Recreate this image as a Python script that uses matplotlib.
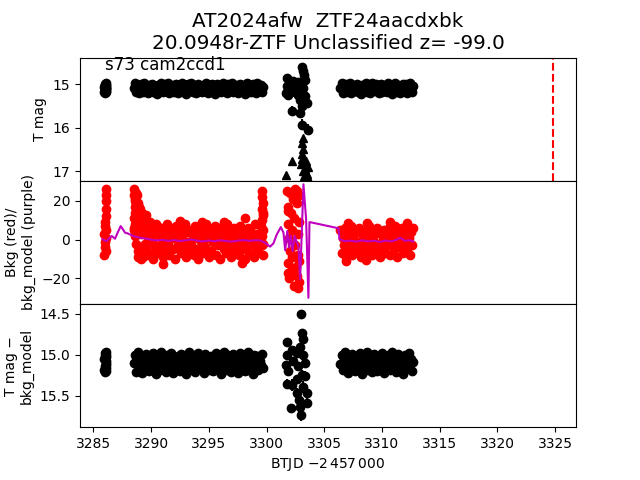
import matplotlib
matplotlib.use("Agg")
import matplotlib.pyplot as plt

# BTJD - 2457000; three dense sections of the light curve plus the messy bit near 3302-3303
t_a = [3285.94, 3285.96, 3285.98, 3286.00, 3286.02, 3286.04, 3286.06,
       3286.08, 3286.10, 3286.11, 3286.12, 3286.12, 3286.11, 3286.10]
mag_a = [15.06, 15.18, 14.99, 15.12, 15.03, 15.20, 15.09,
         14.98, 15.15, 15.04, 15.11, 15.19, 15.01, 15.08]
bkg_a = [-8, 3, -4, 7, -1, 9, -6, 5, 12, 16, 20, 23, 26, 1]
diff_a = [15.05, 15.19, 14.98, 15.13, 15.02, 15.21, 15.10,
          14.97, 15.16, 15.03, 15.12, 15.20, 15.00, 15.08]

t_b = [3288.5, 3288.6, 3288.7, 3288.8, 3288.9, 3289.0, 3289.1, 3289.2, 3289.3, 3289.4,
       3289.5, 3289.6, 3289.7, 3289.8, 3289.9, 3290.0, 3290.1, 3290.2, 3290.3, 3290.4,
       3290.5, 3290.6, 3290.7, 3290.8, 3290.9, 3291.0, 3291.1, 3291.2, 3291.3, 3291.4,
       3291.5, 3291.6, 3291.7, 3291.8, 3291.9, 3292.0, 3292.1, 3292.2, 3292.3, 3292.4,
       3292.5, 3292.6, 3292.7, 3292.8, 3292.9, 3293.0, 3293.1, 3293.2, 3293.3, 3293.4,
       3293.5, 3293.6, 3293.7, 3293.8, 3293.9, 3294.0, 3294.1, 3294.2, 3294.3, 3294.4,
       3294.5, 3294.6, 3294.7, 3294.8, 3294.9, 3295.0, 3295.1, 3295.2, 3295.3, 3295.4,
       3295.5, 3295.6, 3295.7, 3295.8, 3295.9, 3296.0, 3296.1, 3296.2, 3296.3, 3296.4,
       3296.5, 3296.6, 3296.7, 3296.8, 3296.9, 3297.0, 3297.1, 3297.2, 3297.3, 3297.4,
       3297.5, 3297.6, 3297.7, 3297.8, 3297.9, 3298.0, 3298.1, 3298.2, 3298.3, 3298.4,
       3298.5, 3298.6, 3298.7, 3298.8, 3298.9, 3299.0, 3299.1, 3299.2, 3299.3, 3299.4,
       3299.5, 3299.6, 3299.7]
mag_b = [15.08, 14.98, 15.19, 15.03, 15.14, 15.21, 15.00, 15.10, 15.17, 14.97,
         15.12, 15.05, 15.20, 15.01, 15.15, 15.08, 14.99, 15.18, 15.11, 15.04,
         15.22, 15.02, 15.13, 15.07, 14.98, 15.19, 15.09, 15.00, 15.16, 15.12,
         14.97, 15.21, 15.06, 15.14, 15.01, 15.18, 15.10, 14.99, 15.20, 15.04,
         15.13, 15.08, 14.98, 15.17, 15.02, 15.22, 15.11, 15.00, 15.15, 15.06,
         14.97, 15.19, 15.09, 15.03, 15.21, 15.12, 14.99, 15.16, 15.05, 15.18,
         15.01, 15.14, 15.08, 14.98, 15.20, 15.10, 15.03, 15.17, 15.00, 15.13,
         15.22, 15.06, 14.99, 15.15, 15.04, 15.11, 15.19, 14.98, 15.09, 15.02,
         15.16, 15.21, 15.00, 15.12, 15.07, 14.97, 15.18, 15.05, 15.14, 15.01,
         15.20, 15.10, 14.99, 15.16, 15.03, 15.13, 15.22, 15.08, 14.98, 15.17,
         15.04, 15.11, 15.19, 15.00, 15.14, 15.06, 15.21, 14.97, 15.12, 15.09,
         15.02, 15.18, 15.07]
bkg_b = [6, 21, -2, 23, -6, 17, 3, 14, -9, 11,
         -4, 13, 1, -8, 9, -1, 7, -10, 4, -5,
         7, -7, 2, -3, 6, -9, 0, 4, -6, 8,
         -2, -8, 5, 1, -5, 3, -10, 7, -3, 0,
         6, -7, 2, -4, 8, -9, 4, -1, -6, 5,
         -3, 1, -8, 7, -5, 3, -10, 0, 6, -2,
         -7, 4, -4, 8, 1, -9, 5, -6, 2, -1,
         7, -8, 3, -3, 6, -10, 0, 4, -5, 2,
         -7, 8, -2, 5, -9, 1, -4, 6, -6, 3,
         -1, -8, 7, 0, -5, 4, -10, 2, -3, 6,
         -7, 5, -2, 1, -9, 8, -4, 3, -6, 0,
         7, -3, 14]
diff_b = [15.10, 15.00, 15.21, 15.05, 14.97, 15.16, 15.08, 15.22, 15.02, 15.13,
          15.18, 14.99, 15.07, 15.20, 15.03, 15.12, 15.15, 14.98, 15.09, 15.23,
          15.01, 15.14, 15.06, 15.19, 14.97, 15.11, 15.17, 15.04, 15.21, 15.00,
          15.09, 15.15, 14.98, 15.13, 15.22, 15.03, 15.07, 15.18, 15.01, 15.12,
          15.20, 14.99, 15.10, 15.16, 15.05, 15.23, 15.02, 15.14, 14.97, 15.19,
          15.08, 15.11, 15.00, 15.21, 15.06, 15.15, 14.98, 15.13, 15.17, 15.03,
          15.10, 15.22, 14.99, 15.08, 15.16, 15.04, 15.19, 15.01, 15.12, 15.20,
          15.06, 14.98, 15.14, 15.09, 15.18, 15.02, 15.23, 15.11, 14.97, 15.15,
          15.05, 15.19, 15.00, 15.13, 15.21, 15.07, 14.99, 15.17, 15.03, 15.12,
          15.22, 15.08, 14.98, 15.16, 15.01, 15.14, 15.20, 15.04, 15.10, 14.97,
          15.18, 15.06, 15.13, 15.23, 15.00, 15.11, 15.15, 15.02, 15.19, 15.08,
          15.12, 14.99, 15.16]

t_d = [3306.4, 3306.5, 3306.6, 3306.7, 3306.8, 3306.9, 3307.0, 3307.1, 3307.2, 3307.3,
       3307.4, 3307.5, 3307.6, 3307.7, 3307.8, 3307.9, 3308.0, 3308.1, 3308.2, 3308.3,
       3308.4, 3308.5, 3308.6, 3308.7, 3308.8, 3308.9, 3309.0, 3309.1, 3309.2, 3309.3,
       3309.4, 3309.5, 3309.6, 3309.7, 3309.8, 3309.9, 3310.0, 3310.1, 3310.2, 3310.3,
       3310.4, 3310.5, 3310.6, 3310.7, 3310.8, 3310.9, 3311.0, 3311.1, 3311.2, 3311.3,
       3311.4, 3311.5, 3311.6, 3311.7, 3311.8, 3311.9, 3312.0, 3312.1, 3312.2, 3312.3,
       3312.4, 3312.5, 3312.6, 3312.7]
mag_d = [15.09, 14.98, 15.20, 15.04, 15.13, 15.00, 15.17, 15.07, 14.97, 15.21,
         15.11, 15.02, 15.15, 15.08, 14.99, 15.19, 15.05, 15.12, 15.22, 15.01,
         15.14, 15.06, 14.98, 15.18, 15.10, 15.03, 15.20, 14.97, 15.13, 15.08,
         15.16, 15.00, 15.11, 15.21, 15.04, 14.99, 15.17, 15.07, 15.12, 15.02,
         15.19, 14.98, 15.10, 15.15, 15.03, 15.22, 15.06, 14.97, 15.18, 15.09,
         15.01, 15.14, 15.20, 15.05, 14.99, 15.12, 15.16, 15.00, 15.21, 15.08,
         14.98, 15.13, 15.19, 15.04]
bkg_d = [5, -7, 1, -3, 6, -9, 3, -5, 0, 7,
         -8, 2, -2, 4, -6, -1, 6, -4, -9, 3,
         0, -7, 5, -3, 1, 7, -5, -8, 2, -1,
         4, -6, 6, -2, -9, 3, -4, 0, 5, -7,
         2, -3, 6, -8, 1, 4, -5, 7, -1, -9,
         3, -4, 0, 6, -7, 2, -2, 5, -6, 1,
         -8, 4, -3, 6]
diff_d = [15.11, 15.00, 15.19, 15.06, 14.97, 15.15, 15.09, 15.22, 15.03, 15.13,
          14.99, 15.17, 15.07, 15.20, 15.01, 15.12, 15.16, 14.98, 15.10, 15.23,
          15.04, 15.14, 15.08, 14.97, 15.18, 15.02, 15.11, 15.21, 15.05, 14.99,
          15.15, 15.09, 15.20, 15.01, 15.13, 15.17, 14.98, 15.07, 15.22, 15.03,
          15.12, 15.00, 15.16, 15.19, 15.04, 14.97, 15.14, 15.10, 15.21, 15.06,
          14.99, 15.18, 15.02, 15.13, 15.23, 15.08, 15.00, 15.15, 15.11, 14.98,
          15.17, 15.05, 15.20, 15.09]
band_err = 0.03

# the flare-ish part
t_c = [3303.06, 3303.15, 3303.26, 3303.35, 3303.06, 3301.81, 3301.76, 3301.90, 3302.10, 3302.33,
       3302.62, 3302.85, 3302.48, 3302.77, 3303.06, 3303.35, 3302.91, 3303.49, 3302.19, 3302.91,
       3303.06, 3303.06, 3303.58, 3301.70, 3302.04, 3302.33, 3301.95, 3302.20, 3302.55, 3302.70,
       3303.20, 3303.00, 3302.40, 3301.85]
mag_c = [14.60, 14.69, 14.79, 14.90, 14.98, 14.86, 15.04, 15.13, 15.02, 15.09,
         14.98, 15.05, 15.17, 15.24, 15.17, 15.28, 15.36, 15.43, 15.61, 15.66,
         15.51, 15.93, 16.04, 15.20, 14.94, 14.92, 15.08, 15.15, 15.10, 14.95,
         15.08, 15.25, 15.00, 15.25]
err_c = [0.03, 0.03, 0.04, 0.04, 0.04, 0.03, 0.04, 0.05, 0.04, 0.05,
         0.04, 0.05, 0.05, 0.06, 0.05, 0.06, 0.06, 0.07, 0.10, 0.08,
         0.07, 0.12, 0.12, 0.05, 0.04, 0.04, 0.04, 0.05, 0.05, 0.04,
         0.05, 0.06, 0.04, 0.05]

t_lim = [3303.15, 3303.08, 3303.12, 3303.05, 3303.10, 3303.00, 3302.19, 3301.70,
         3303.45, 3303.55, 3303.50, 3303.60, 3303.35, 3303.25, 3303.15]
mag_lim = [16.23, 16.35, 16.48, 16.60, 16.72, 16.83, 16.76, 17.08,
           16.75, 16.90, 17.05, 17.14, 16.95, 17.10, 17.00]

t_e = [3303.00, 3303.06, 3303.14, 3301.81, 3301.76, 3301.70, 3301.90, 3302.19, 3302.33, 3302.62,
       3302.77, 3302.91, 3303.20, 3303.35, 3303.06, 3302.62, 3302.19, 3303.20, 3303.49, 3302.10,
       3302.97, 3303.49, 3302.85, 3302.68, 3302.91, 3303.35, 3301.81]
diff_e = [14.50, 14.74, 14.81, 14.84, 15.00, 15.12, 15.20, 14.94, 15.08, 14.98,
          15.14, 14.90, 15.00, 15.10, 15.24, 15.30, 15.37, 15.39, 15.47, 15.65,
          15.73, 15.59, 15.55, 15.47, 15.63, 15.26, 15.35]
err_e = [0.02, 0.03, 0.03, 0.03, 0.04, 0.04, 0.05, 0.04, 0.04, 0.04,
         0.05, 0.04, 0.05, 0.05, 0.06, 0.06, 0.07, 0.07, 0.08, 0.05,
         0.07, 0.06, 0.07, 0.07, 0.08, 0.06, 0.06]

t_f = [3301.80, 3301.82, 3301.85, 3301.88, 3301.92, 3301.96, 3302.00, 3302.05, 3302.10, 3302.15,
       3302.20, 3302.25, 3302.30, 3302.35, 3302.40, 3302.45, 3302.50, 3302.55, 3302.60, 3302.65,
       3302.70, 3302.75, 3302.80, 3302.85, 3302.83, 3302.78, 3301.84, 3301.90, 3302.62, 3302.72]
bkg_f = [25, -12, 8, 17, -20, 1, 24, -6, 14, -16, 5, -9, 21, -24, 11, -3, 26, -14, 19, -19,
         3, -25, 9, -11, 23, -22, 15, -17, 25, -8]

# extra background points: steep edges of the sections and a few outliers
t_x = [3288.52, 3288.55, 3288.58, 3288.60, 3288.62, 3288.55, 3288.60, 3288.52, 3288.58, 3288.68,
       3288.70, 3288.85, 3288.90, 3289.00, 3289.05, 3289.20, 3289.30, 3289.35, 3289.45, 3289.60,
       3289.75, 3289.90, 3290.10, 3290.20, 3290.40, 3288.75, 3288.85, 3289.15, 3289.50, 3289.65,
       3291.07, 3297.91, 3298.15, 3292.50, 3294.40, 3296.30,
       3299.62, 3299.65, 3299.68, 3299.63, 3299.66, 3299.70, 3299.62, 3299.68, 3299.58, 3299.70,
       3307.10, 3308.70, 3310.70, 3312.20, 3306.90, 3308.60]
bkg_x = [26, 23, 20, 17, 14, 11, 8, 5, 2, 24,
         18, 19, 13, 9, 16, 6, 12, -5, 8, 4,
         7, 1, 6, -2, 8, 3, -9, -10, -2, -6,
         -12.8, -11.9, 11.4, 9.5, 9.0, 9.3,
         25, 22, 19, 16, 13, 5, 2, -8, 10, -2,
         8.8, 8.8, 9.1, 8.6, -11, -10.5]

t_m = [3285.80, 3285.95, 3286.16, 3286.40, 3286.60, 3286.88, 3287.10, 3287.37, 3287.55, 3287.75,
       3288.00, 3288.18, 3288.50, 3289.05, 3289.63, 3290.00, 3290.50, 3291.00, 3291.50, 3292.00,
       3292.50, 3293.00, 3293.50, 3294.00, 3294.50, 3295.00, 3295.50, 3296.00, 3296.50, 3297.00,
       3297.50, 3298.00, 3298.50, 3299.00, 3299.45, 3299.88, 3300.31, 3300.60, 3300.89, 3301.24,
       3301.47, 3301.62, 3301.80, 3301.95, 3302.10, 3302.25, 3302.45, 3302.60, 3302.77, 3302.91,
       3303.20, 3303.43, 3303.63, 3303.72, 3306.23, 3306.32, 3306.80, 3307.30, 3307.80, 3308.30,
       3308.80, 3309.30, 3309.80, 3310.30, 3310.80, 3311.20, 3311.57, 3312.00, 3312.40, 3312.70]
bkg_m = [0.2, -0.3, -0.7, 0.8, 1.9, 0.5, 3.5, 7.0, 5.5, 3.6,
         3.2, 2.7, 1.8, 1.0, 0.5, 0.0, -0.4, -0.1, -0.6, -0.2,
         -0.7, -0.3, 0.1, -0.5, -0.9, -0.4, -0.8, -0.3, -0.7, -1.0,
         -0.5, -0.2, -0.6, -0.3, -0.4, -1.6, -3.6, -1.9, 2.7, 6.5,
         3.6, -5.5, 4.5, -4.0, 2.0, -5.9, 1.9, -1.0, -3.3, -20.6,
         28.6, 10.5, -30.0, 9.1, 5.9, 0.15, -0.8, -0.5, -1.0, -0.3,
         -0.9, -0.5, -1.2, -0.4, -0.9, -0.2, 1.0, -0.6, -0.3, -0.9]

t_peak = 3324.8


fig, (ax1, ax2, ax3) = plt.subplots(3, 1, sharex=True)
fig.subplots_adjust(hspace=0)

# T mag
ax1.errorbar(t_a + t_b + t_d, mag_a + mag_b + mag_d, yerr=band_err, fmt='ko')
ax1.errorbar(t_c, mag_c, yerr=err_c, fmt='ko')
ax1.plot(t_lim, mag_lim, 'k^')
ax1.axvline(t_peak, color='r', linestyle='--')
ax1.set_ylim(17.214, 14.393)
ax1.set_ylabel('T mag')
ax1.text(0.05, 0.9, 's73 cam2ccd1', transform=ax1.transAxes, fontsize=12)
ax1.set_title('AT2024afw  ZTF24aacdxbk\n20.0948r-ZTF Unclassified z= -99.0',
              fontsize='x-large')

# background
ax2.plot(t_a + t_b + t_d + t_f + t_x, bkg_a + bkg_b + bkg_d + bkg_f + bkg_x, 'ro')
ax2.plot(t_m, bkg_m, 'm-')
ax2.set_ylim(-33.2, 30.4)
ax2.set_ylabel('Bkg (red)/\nbkg_model (purple)')

# T mag minus model
ax3.errorbar(t_a + t_b + t_d, diff_a + diff_b + diff_d, yerr=band_err, fmt='ko')
ax3.errorbar(t_e, diff_e, yerr=err_e, fmt='ko')
ax3.set_ylim(15.88, 14.382)
ax3.set_ylabel('T mag \u2212\nbkg_model')

ax3.set_xlim(3283.85, 3326.8)
ax3.set_xlabel(r'BTJD $-2\,457\,000$')

plt.savefig('out.png')
